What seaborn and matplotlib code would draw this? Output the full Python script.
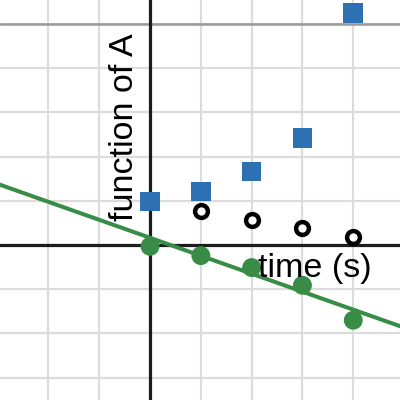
import numpy as np
import pandas as pd
import matplotlib
matplotlib.use('Agg')
import matplotlib.pyplot as plt
import seaborn as sns

# data
t = [0, 1, 2, 3, 4]
squares = [0.98, 1.21, 1.66, 2.42, 5.25]
t_open = [1, 2, 3, 4]
open_pts = [0.76, 0.57, 0.38, 0.17]
dots = [-0.03, -0.24, -0.51, -0.91, -1.70]
fit_slope = -0.406
fit_intercept = 0.163

x_ticks = [-2, -1, 0, 1, 2, 3, 4]
y_ticks = [-3, -2, -1, 0, 1, 2, 3, 4, 5]

sns.set_style('white')
plt.rcParams['font.family'] = ['Liberation Sans', 'DejaVu Sans']

fig = plt.figure(figsize=(4, 4), dpi=100)
ax = fig.add_axes([0, 0, 1, 1])

ax.set_xlim(-2.953, 4.92)
ax.set_ylim(-3.503, 5.537)
ax.set_xticks(x_ticks)
ax.set_yticks(y_ticks)
ax.grid(True, color='#dcdcdc', linewidth=1.6)
ax.set_axisbelow(True)
ax.tick_params(length=0, labelbottom=False, labelleft=False)
for s in ax.spines.values():
    s.set_visible(False)

ax.axhline(5, color='#9a9a9a', linewidth=1.8, zorder=1)
ax.axhline(0, color='#1c1c1c', linewidth=2.3, zorder=2)
ax.axvline(0, color='#1c1c1c', linewidth=2.3, zorder=2)

line_x = np.array([-3.5, 5.5])
line_df = pd.DataFrame({'x': line_x, 'y': fit_intercept + fit_slope * line_x})
sns.lineplot(data=line_df, x='x', y='y', color='#388c46', linewidth=2.9,
             ax=ax, zorder=3)

sns.scatterplot(x=t, y=dots, color='#388c46', marker='o', s=185,
                edgecolor='none', ax=ax, zorder=4)
sns.scatterplot(x=t_open, y=open_pts, marker='o', s=85, facecolor='white',
                edgecolor='black', linewidth=3.2, ax=ax, zorder=4)
sns.scatterplot(x=t, y=squares, color='#2d70b3', marker='s', s=200,
                edgecolor='none', ax=ax, zorder=4)

ax.set_xlabel('')
ax.set_ylabel('')

ax.text(2.13, -0.72, 'time (s)', fontsize=24.5, color='black',
        ha='left', va='baseline', zorder=5)
ax.text(-0.50, 2.67, 'function of A', fontsize=24.5, color='black',
        rotation=90, ha='center', va='center', zorder=5)

fig.savefig('out.png', dpi=100)
